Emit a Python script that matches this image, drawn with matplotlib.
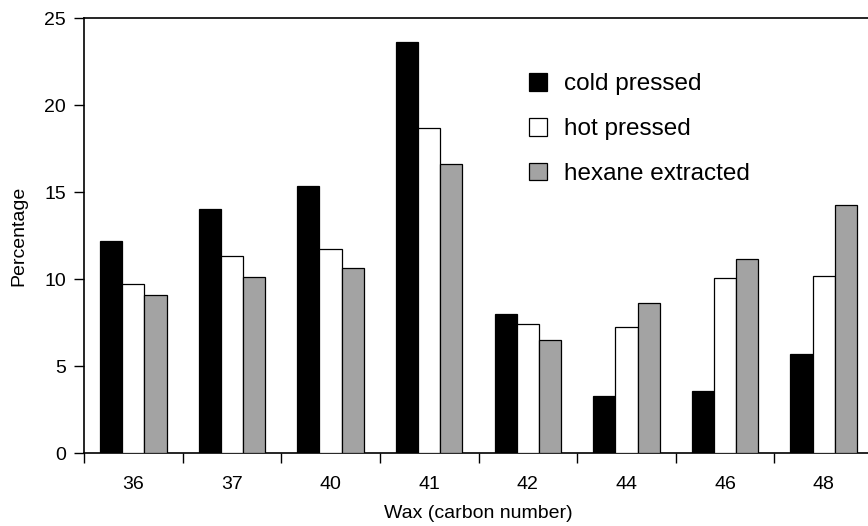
import matplotlib
matplotlib.use("Agg")
import matplotlib.pyplot as plt
import numpy as np
from matplotlib.patches import Patch

plt.rcParams['font.family'] = ['Liberation Sans', 'DejaVu Sans']

categories = ["36", "37", "40", "41", "42", "44", "46", "48"]
cold_pressed = [12.2, 14.05, 15.35, 23.6, 8.0, 3.3, 3.6, 5.7]
hot_pressed = [9.75, 11.35, 11.75, 18.7, 7.4, 7.25, 10.05, 10.2]
hexane_extracted = [9.1, 10.15, 10.65, 16.6, 6.5, 8.65, 11.15, 14.25]
series_names = ["cold pressed", "hot pressed", "hexane extracted"]
colors = ["#000000", "#ffffff", "#a3a3a3"]

fig = plt.figure(figsize=(8.68, 5.26), dpi=100)
ax = fig.add_axes([84/868, (526-453.3)/526, (873-84)/868, (453.3-18)/526])

x = np.arange(len(categories))
w = 0.225
for i, (vals, c) in enumerate(zip([cold_pressed, hot_pressed, hexane_extracted], colors)):
    ax.bar(x + (i - 1) * w, vals, w, color=c, edgecolor="black", linewidth=0.9, zorder=3)

ax.set_xlim(-0.5, len(categories) - 0.5)
ax.set_ylim(0, 25)
ax.set_yticks([0, 5, 10, 15, 20, 25])
ax.tick_params(axis='y', labelsize=14, length=7, width=1, direction='out', pad=6)
ax.set_xticks(np.arange(len(categories) + 1) - 0.5)
ax.set_xticklabels([])
ax.tick_params(axis='x', which='major', length=7, width=1, direction='out')
ax.set_xticks(x, minor=True)
ax.set_xticklabels(categories, minor=True)
ax.tick_params(axis='x', which='minor', length=0, labelsize=14, pad=16)

for s in ax.spines.values():
    s.set_linewidth(1.2)

ax.set_xlabel("Wax (carbon number)", fontsize=14, labelpad=9)
ax.set_ylabel("Percentage", fontsize=14, labelpad=12)

handles = [Patch(facecolor=c, edgecolor="black", linewidth=0.9) for c in colors]
ax.legend(handles, series_names, loc='upper left', bbox_to_anchor=((519-84)/789, 1 - (63-18)/435.3),
          frameon=False, fontsize=17.5, handlelength=0.75, handleheight=0.75,
          labelspacing=0.93, handletextpad=0.7, borderaxespad=0)

fig.savefig("out.png", dpi=100)
